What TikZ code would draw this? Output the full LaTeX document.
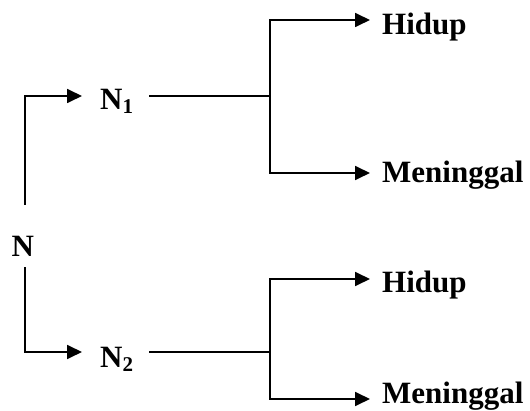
\documentclass[tikz,border=0pt]{standalone}
\usepackage{fontspec}
\setmainfont{Liberation Serif}
\usetikzlibrary{arrows.meta}
\newcommand{\subx}[1]{\raisebox{-4pt}{\fontsize{21}{21}\selectfont #1}}
\begin{document}
\begin{tikzpicture}[x=1pt,y=-1pt,
  lab/.style={font=\fontsize{31}{36}\selectfont\bfseries, inner sep=0pt, anchor=base west},
  ln/.style={line width=1.8pt},
  arr/.style={ln, -{Triangle[length=15pt,width=14pt]}}]
\useasboundingbox (0,0) rectangle (530,411);
% text nodes
\node[lab] (N)  at (11.5,257) {N};
\node[lab] (N1) at (100,110) {N\subx{1}};
\node[lab] (N2) at (100,367) {N\subx{2}};
\node[lab] (H1) at (382,35)  {Hidup};
\node[lab] (M1) at (382,183) {Meninggal};
\node[lab] (H2) at (382,293) {Hidup};
\node[lab] (M2) at (382,403) {Meninggal};
% junction coordinates
\coordinate (ju1) at (270,20);
\coordinate (jm1) at (270,96);
\coordinate (jd1) at (270,173);
\coordinate (ju2) at (270,279);
\coordinate (jm2) at (270,352);
\coordinate (jd2) at (270,399);
% from N
\draw[arr, shorten >=18pt] ([shift={(2.5,-31.5)}]N.north) |- (N1.west |- jm1);
\draw[arr, shorten >=18pt] ([shift={(2.5,10)}]N.south) |- (N2.west |- jm2);
% N1 and N2 to junctions
\draw[ln, shorten <=16pt] (N1.east |- jm1) -- (jm1);
\draw[ln, shorten <=16pt] (N2.east |- jm2) -- (jm2);
% branches
\draw[arr, shorten >=12pt] (jm1) |- (H1.west |- ju1);
\draw[arr, shorten >=12pt] (jm1) |- (M1.west |- jd1);
\draw[arr, shorten >=12pt] (jm2) |- (H2.west |- ju2);
\draw[arr, shorten >=12pt] (jm2) |- (M2.west |- jd2);
\end{tikzpicture}
\end{document}
